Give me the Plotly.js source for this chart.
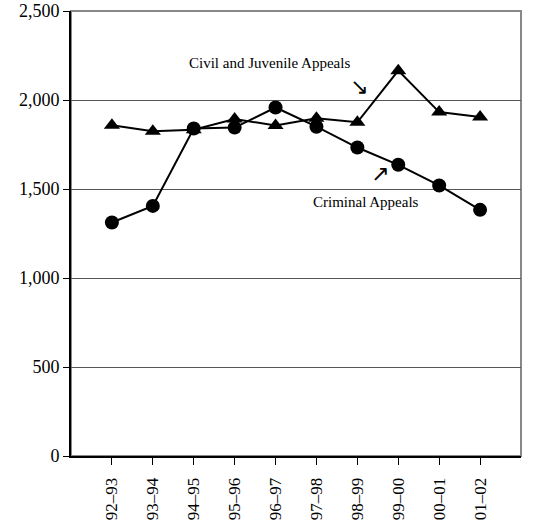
<!DOCTYPE html>
<html><head><meta charset="utf-8">
<script src="https://cdn.plot.ly/plotly-3.0.1.min.js"></script>
<style>html,body{margin:0;padding:0;background:#fff}#chart{width:546px;height:523px}</style>
</head><body><div id="chart"></div>
<script>
const years = ["92–93","93–94","94–95","95–96","96–97","97–98","98–99","99–00","00–01","01–02"];
const civilJuvenile = [1858, 1825, 1833, 1893, 1857, 1897, 1875, 2165, 1932, 1905];
const criminal = [1312, 1405, 1840, 1845, 1958, 1850, 1733, 1636, 1520, 1383];
const idx = years.map((_, i) => i);

const font = "Liberation Serif";
const data = [
  {x: idx, y: civilJuvenile, mode: "lines+markers", type: "scatter", name: "Civil and Juvenile Appeals",
   line: {color: "#000", width: 2}, marker: {symbol: "triangle-up", size: 14, color: "#000"}, cliponaxis: false},
  {x: idx, y: criminal, mode: "lines+markers", type: "scatter", name: "Criminal Appeals",
   line: {color: "#000", width: 2}, marker: {symbol: "circle", size: 14, color: "#000"}, cliponaxis: false}
];
const layout = {
  width: 546, height: 523,
  margin: {l: 71, r: 25, t: 11, b: 67},
  paper_bgcolor: "#fff", plot_bgcolor: "#fff",
  showlegend: false,
  font: {family: font, size: 17, color: "#000"},
  xaxis: {
    range: [-1, 10], tickmode: "array", tickvals: idx, ticktext: years, tickangle: -90,
    showgrid: false, zeroline: false, showline: true, linecolor: "#000", linewidth: 2,
    ticks: "outside", ticklen: 7, tickcolor: "#000", tickwidth: 1, ticklabelstandoff: 6,
    tickfont: {family: font, size: 17, color: "#000"}
  },
  yaxis: {
    range: [0, 2500], dtick: 500, tickformat: ",",
    showgrid: true, gridcolor: "#555", gridwidth: 1, zeroline: false,
    showline: true, linecolor: "#000", linewidth: 2,
    ticks: "outside", ticklen: 6, tickcolor: "#000",
    tickfont: {family: font, size: 18, color: "#000"}
  },
  shapes: [
    {type: "rect", xref: "paper", yref: "paper", x0: 0, x1: 1, y0: 0, y1: 1,
     line: {color: "#888", width: 2}, layer: "below"}
  ],
  annotations: [
    {x: 3.85, y: 2210, text: "Civil and Juvenile Appeals", showarrow: false, font: {family: font, size: 15}},
    {x: 6.05, y: 2075, text: "↘", showarrow: false, font: {family: "DejaVu Sans", size: 22}},
    {x: 6.55, y: 1585, text: "↗", showarrow: false, font: {family: "DejaVu Sans", size: 22}},
    {x: 6.2, y: 1425, text: "Criminal Appeals", showarrow: false, font: {family: font, size: 15}}
  ]
};
Plotly.newPlot("chart", data, layout, {displayModeBar: false, staticPlot: true});
</script></body></html>
